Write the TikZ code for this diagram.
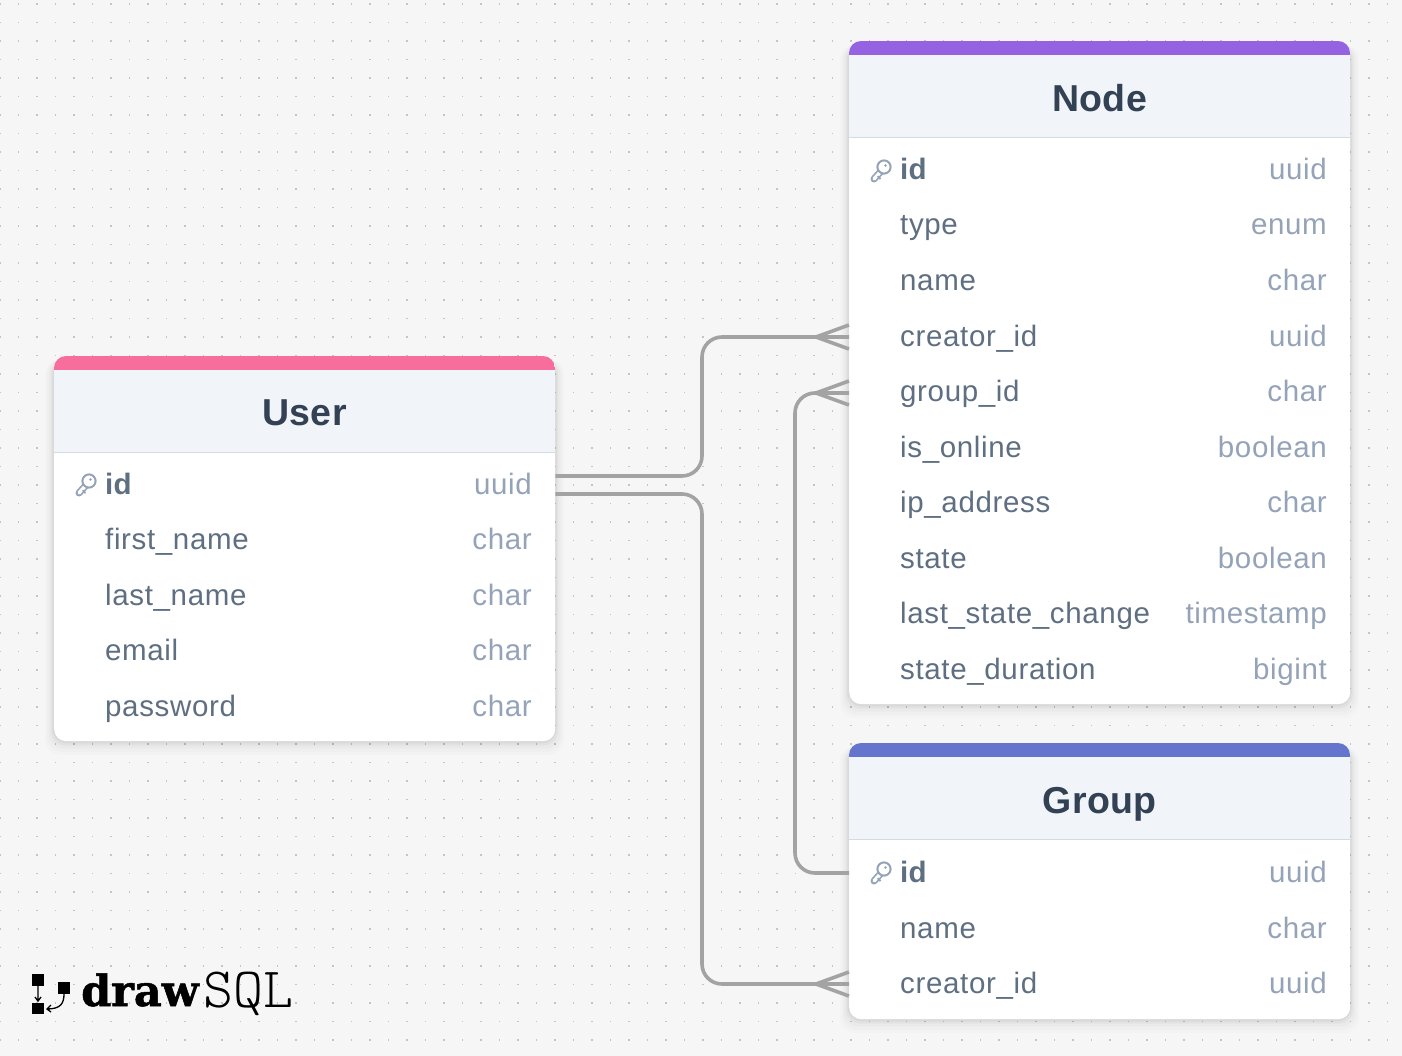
\documentclass[tikz,border=0pt]{standalone}
\usepackage{fontspec}
\usetikzlibrary{calc}
\setmainfont[LetterSpace=2.2]{Liberation Sans}
\newfontfamily\boldf[LetterSpace=1.0]{Liberation Sans Bold}
\newfontfamily\logobold[FakeBold=1.2]{DejaVu Serif Bold}
\newfontfamily\logolight{Latin Modern Mono Light}
\definecolor{bgc}{HTML}{F6F6F6}
\definecolor{dotc}{HTML}{C4C4C4}
\definecolor{headc}{HTML}{F1F5F9}
\definecolor{linec}{HTML}{D3DCE6}
\definecolor{titlec}{HTML}{334155}
\definecolor{namec}{HTML}{5F6F82}
\definecolor{typec}{HTML}{94A3B8}
\definecolor{conc}{HTML}{A3A3A3}
\definecolor{pinkc}{HTML}{F76D9C}
\definecolor{purpc}{HTML}{9563E2}
\definecolor{bluec}{HTML}{6574CD}
\tikzset{x=1pt,y=-1pt,
  conn/.style={draw=conc,line width=3.6pt,rounded corners=20pt},
  crow/.style={draw=conc,line width=3.6pt},
  title/.style={font=\boldf\fontsize{37.5}{37.5}\selectfont,text=titlec,anchor=center,inner sep=0pt},
  fname/.style={font=\fontsize{29.5}{29.5}\selectfont,text=namec,anchor=base west,inner sep=0pt},
  fid/.style={font=\boldf\fontsize{29.5}{29.5}\selectfont,text=namec,anchor=base west,inner sep=0pt},
  ftype/.style={font=\fontsize{29.5}{29.5}\selectfont,text=typec,anchor=base east,inner sep=0pt},
}
% table: #1 name, #2 left x, #3 top y, #4 bottom y, #5 colour, #6 title
\newcommand{\dbtable}[6]{
  \foreach \s/\o in {18/.012,14/.015,10/.02,6/.03,3/.04}{
    \fill[black,opacity=\o,rounded corners=14pt] (#2-\s/2,#3+4) rectangle (#2+501+\s/2,#4+\s/1.3);
  }
  \node[draw=none,fill=white,rounded corners=12pt,minimum width=501pt,minimum height={(#4-(#3))*1pt},inner sep=0pt,anchor=north west] (#1) at (#2,#3) {};
  \begin{scope}
    \clip[rounded corners=12pt] (#2,#3) rectangle (#2+501,#4);
    \fill[#5] (#2,#3) rectangle (#2+501,#3+14);
    \fill[headc] (#2,#3+14) rectangle (#2+501,#3+96.4);
    \draw[linec,line width=1pt] (#2,#3+96.4) -- (#2+501,#3+96.4);
  \end{scope}
  \node[title] (#1-title) at (#2+250.5,#3+61) {\vphantom{Ug}#6};
}
% key icon at row
\newcommand{\keyicon}[2]{
  \begin{scope}[shift={(#1,#2)}]
    \draw[typec,line width=7pt,line cap=round] (13,-1) -- (4,9);
    \draw[white,line width=3.6pt,line cap=round] (13,-1) -- (4.2,8.8);
    \draw[typec,line width=2pt,fill=white] (14,-3) circle (6.6);
    \fill[typec] (15.5,-4.5) circle (1.3);
    \draw[typec,line width=1.8pt] (7.6,6.2) -- (10.5,9);
  \end{scope}
}
\begin{document}
\begin{tikzpicture}
\useasboundingbox (0,0) rectangle (1402,1056);
\fill[bgc] (0,0) rectangle (1402,1056);
\foreach \i in {0,...,75}{
  \foreach \j in {0,...,56}{
    \fill[dotc] ({\i*18.5-0.6},{\j*18.5+3.4}) rectangle ++(1.3,1.3);
  }
}
% tables
\dbtable{user}{54}{356}{741}{pinkc}{User}
\dbtable{node}{849}{41}{704}{purpc}{Node}
\dbtable{group}{849}{743}{1019}{bluec}{Group}
% ports
\coordinate (uA) at (user.east |- 0,476);
\coordinate (uB) at (user.east |- 0,494);
\coordinate (nA) at (node.west |- 0,337);
\coordinate (nAa) at (node.west |- 0,325);
\coordinate (nAb) at (node.west |- 0,349);
\coordinate (nB) at (node.west |- 0,393);
\coordinate (nBa) at (node.west |- 0,381);
\coordinate (nBb) at (node.west |- 0,405);
\coordinate (gA) at (group.west |- 0,873);
\coordinate (gB) at (group.west |- 0,984);
\coordinate (gBa) at (group.west |- 0,972);
\coordinate (gBb) at (group.west |- 0,996);
\coordinate (cA) at (816,337);
\coordinate (cB) at (816,393);
\coordinate (cC) at (816,984);
% connectors
\draw[conn] (uA) -| (702,337) -- (nA);
\draw[conn] (uB) -| (702,984) -- (gB);
\draw[conn] (gA) -| (795,393) -- (nB);
\draw[crow] (nAa) -- (cA) -- (nAb);
\draw[crow] (nBa) -- (cB) -- (nBb);
\draw[crow] (gBa) -- (cC) -- (gBb);
% User rows
\keyicon{75}{484}
\node[fid] (u1) at (105,494) {id};
\node[ftype] (u1t) at (532,494) {uuid};
\node[fname] (u2) at (105,549) {first\_name};
\node[ftype] (u2t) at (532,549) {char};
\node[fname] (u3) at (105,605) {last\_name};
\node[ftype] (u3t) at (532,605) {char};
\node[fname] (u4) at (105,660) {email};
\node[ftype] (u4t) at (532,660) {char};
\node[fname] (u5) at (105,716) {password};
\node[ftype] (u5t) at (532,716) {char};
% Node rows
\keyicon{870}{170}
\node[fid] (n1) at (900,180) {id};
\node[ftype] (n1t) at (1327,180) {uuid};
\node[fname] (n2) at (900,235) {type};
\node[ftype] (n2t) at (1327,235) {enum};
\node[fname] (n3) at (900,291) {name};
\node[ftype] (n3t) at (1327,291) {char};
\node[fname] (n4) at (900,346) {creator\_id};
\node[ftype] (n4t) at (1327,346) {uuid};
\node[fname] (n5) at (900,401) {group\_id};
\node[ftype] (n5t) at (1327,401) {char};
\node[fname] (n6) at (900,457) {is\_online};
\node[ftype] (n6t) at (1327,457) {boolean};
\node[fname] (n7) at (900,512) {ip\_address};
\node[ftype] (n7t) at (1327,512) {char};
\node[fname] (n8) at (900,568) {state};
\node[ftype] (n8t) at (1327,568) {boolean};
\node[fname] (n9) at (900,623) {last\_state\_change};
\node[ftype] (n9t) at (1327,623) {timestamp};
\node[fname] (n10) at (900,679) {state\_duration};
\node[ftype] (n10t) at (1327,679) {bigint};
% Group rows
\keyicon{870}{872}
\node[fid] (g1) at (900,882) {id};
\node[ftype] (g1t) at (1327,882) {uuid};
\node[fname] (g2) at (900,938) {name};
\node[ftype] (g2t) at (1327,938) {char};
\node[fname] (g3) at (900,993) {creator\_id};
\node[ftype] (g3t) at (1327,993) {uuid};
% logo
\fill[black] (32,974) rectangle (44,986);
\fill[black] (32,1003) rectangle (44,1014);
\fill[black] (58,982) rectangle (70,994);
\draw[black,line width=1.3pt] (38,986) -- (38,1001) (35,997) -- (38,1001) -- (41,997);
\draw[black,line width=1.3pt] (64,994) .. controls (64,1003) and (61,1009) .. (47,1009) (51,1005) -- (47,1009) -- (51,1012);
\node[anchor=base west,inner sep=0pt,text=black,font=\logobold\fontsize{43}{43}\selectfont] (logoA) at (81,1006) {draw};
\node[anchor=base west,inner sep=0pt,text=black,font=\logolight\fontsize{57}{57}\selectfont] (logoB) at (203,1007) {SQL};
\end{tikzpicture}
\end{document}
